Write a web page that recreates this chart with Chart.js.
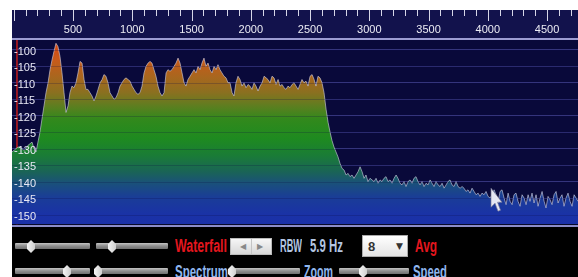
<!DOCTYPE html>
<html><head><meta charset="utf-8">
<script src="https://cdn.jsdelivr.net/npm/chart.js@4.4.1/dist/chart.umd.min.js"></script>
<style>
html,body{margin:0;padding:0;background:#fff;width:578px;height:277px;overflow:hidden;}
#app{position:absolute;left:12px;top:10px;width:566px;height:267px;background:#000;overflow:hidden;}
#chart{position:absolute;left:0;top:0;}
.t{position:absolute;font-family:"Liberation Sans",Arial,sans-serif;font-weight:bold;font-size:18px;line-height:16px;white-space:nowrap;transform-origin:left center;}
.red{color:#e4161e}
.blue{color:#8fb6ee}
.pale{color:#b4c6e2}
.sl{position:absolute;height:6px;background:linear-gradient(#c4c4c4,#8e8e8e 50%,#707070);border-radius:1px;}
.kn{position:absolute;width:8px;height:13px;background:linear-gradient(90deg,#f4f4f4,#d0d0d0);clip-path:polygon(50% 0,100% 30%,100% 70%,50% 100%,0 70%,0 30%);}
.btn{position:absolute;background:linear-gradient(#f6f6f6,#d8d8d8);border:1px solid #bbb;box-sizing:border-box;font-family:"DejaVu Sans",sans-serif;font-size:8px;color:#888;}
.btn span{position:absolute;top:3px;}
.dd{position:absolute;background:linear-gradient(#ffffff,#e4e4e4);border:1px solid #aaa;box-sizing:border-box;font-family:"Liberation Sans",Arial,sans-serif;font-weight:bold;font-size:13px;color:#333;}
</style>
</head><body>
<div id="app">
  <canvas id="chart" width="566" height="223"></canvas>
  <div class="sl" style="left:3px;top:233px;width:75px"></div><div class="kn" style="left:15px;top:230px"></div>
  <div class="sl" style="left:84px;top:233px;width:72px"></div><div class="kn" style="left:96px;top:230px"></div>
  <div class="t red" data-w="52" style="left:163px;top:228px">Waterfall</div>
  <div class="btn" style="left:218px;top:228px;width:42px;height:17px"><span style="left:9px">&#9664;</span><span style="left:20px;top:0;width:1px;height:15px;background:#c4c4c4"></span><span style="left:26px">&#9654;</span></div>
  <div class="t pale" data-w="22" style="left:268px;top:228px">RBW</div>
  <div class="t pale" data-w="33" style="left:298px;top:228px">5.9 Hz</div>
  <div class="dd" style="left:350px;top:225px;width:46px;height:22px"><span style="position:absolute;left:5px;top:3px">8</span><span style="position:absolute;right:4px;top:5px;font-size:9px;font-family:'DejaVu Sans',sans-serif">&#9660;</span></div>
  <div class="t red" data-w="22" style="left:403px;top:228px">Avg</div>

  <div class="sl" style="left:3px;top:258px;width:75px"></div><div class="kn" style="left:51px;top:255px"></div>
  <div class="sl" style="left:84px;top:258px;width:72px"></div><div class="kn" style="left:82px;top:255px"></div>
  <div class="t blue" data-w="53" style="left:163px;top:254px">Spectrum</div>
  <div class="sl" style="left:220px;top:258px;width:68px"></div><div class="kn" style="left:216px;top:255px"></div>
  <div class="t blue" data-w="29" style="left:292px;top:254px">Zoom</div>
  <div class="sl" style="left:327px;top:258px;width:70px"></div><div class="kn" style="left:347px;top:255px"></div>
  <div class="t blue" data-w="34" style="left:401px;top:254px">Speed</div>
</div>
<script>
// ---- data ----
const freqHz = [
  -15,2,19,36,53,69,86,103,120,137,
  154,171,188,204,221,238,255,272,289,306,
  323,339,356,373,390,407,424,441,458,474,
  491,508,525,542,559,576,593,609,626,643,
  660,677,694,711,728,745,761,778,795,812,
  829,846,863,880,896,913,930,947,964,981,
  998,1015,1031,1048,1065,1082,1099,1116,1133,1150,
  1166,1183,1200,1217,1234,1251,1268,1285,1301,1318,
  1335,1352,1369,1386,1403,1420,1437,1453,1470,1487,
  1504,1521,1538,1555,1572,1588,1605,1622,1639,1656,
  1673,1690,1707,1723,1740,1757,1774,1791,1808,1825,
  1842,1858,1875,1892,1909,1926,1943,1960,1977,1993,
  2010,2027,2044,2061,2078,2095,2112,2129,2145,2162,
  2179,2196,2213,2230,2247,2264,2280,2297,2314,2331,
  2348,2365,2382,2399,2415,2432,2449,2466,2483,2500,
  2517,2534,2550,2567,2584,2601,2618,2635,2652,2669,
  2685,2702,2719,2736,2753,2770,2787,2804,2821,2837,
  2854,2871,2888,2905,2922,2939,2956,2972,2989,3006,
  3023,3040,3057,3074,3091,3107,3124,3141,3158,3175,
  3192,3209,3226,3242,3259,3276,3293,3310,3327,3344,
  3361,3377,3394,3411,3428,3445,3462,3479,3496,3513,
  3529,3546,3563,3580,3597,3614,3631,3648,3664,3681,
  3698,3715,3732,3749,3766,3783,3799,3816,3833,3850,
  3867,3884,3901,3918,3934,3951,3968,3985,4002,4019,
  4036,4053,4069,4086,4103,4120,4137,4154,4171,4188,
  4205,4221,4238,4255,4272,4289,4306,4323,4340,4356,
  4373,4390,4407,4424,4441,4458,4475,4491,4508,4525,
  4542,4559,4576,4593,4610,4626,4643,4660,4677,4694,
  4711,4728,4745,4761
];
const levelDb = [
  -131,-130.5,-130,-129.5,-129.5,-130,-130.5,-130,-129,-128.5,
  -128,-130,-131,-128,-125,-121,-117,-113,-110,-106,
  -103,-100.5,-98,-99,-102,-107,-113,-119,-117,-113,
  -111,-111.5,-110,-107,-103.5,-104,-109,-112,-112,-113,
  -114,-115.5,-114,-112,-110,-109,-107.5,-108,-110,-113,
  -114,-115,-114.5,-113,-111,-110,-109,-108.5,-109,-109.5,
  -111,-112,-113,-113.5,-113,-111,-107,-105,-104,-103.5,
  -104,-106,-108,-111,-113,-114,-113,-107,-106,-106.5,
  -106,-105,-104,-102.5,-104,-107,-110,-111,-109,-108,
  -107,-106,-107,-105,-106,-104,-102.5,-105,-104,-106,
  -107,-105,-106,-104.5,-106,-107,-108,-108.5,-110,-110,
  -113,-114,-110,-108,-109,-111,-110,-111.5,-110.5,-111,
  -112,-110,-111,-112.5,-111,-110,-108,-108.5,-109,-110,
  -108,-108.5,-110.5,-109,-111,-110.5,-111.5,-112,-111,-111.5,
  -110.5,-110,-111,-112,-110.5,-109,-110,-109.5,-111,-108,
  -107.5,-109,-111,-108,-108.5,-110,-113,-118,-122,-125,
  -127.5,-129.5,-131,-132.5,-134.5,-136,-136.5,-138,-137.5,-138.5,
  -138,-139,-138,-137,-135.5,-137,-139,-138,-140,-139,
  -139.5,-140,-139,-140.5,-139.5,-140,-139,-138.5,-140,-139.5,
  -140.5,-139,-138,-139,-140.5,-141,-140,-141.5,-140,-139.5,
  -140.5,-139,-138.5,-140,-141,-140,-141.5,-140.5,-141,-139.5,
  -140.5,-141.5,-140,-141,-141.5,-140.5,-142,-141,-140,-139.5,
  -141,-141.5,-140,-141.5,-142,-141.5,-142,-143,-142.5,-143.5,
  -142,-143,-144,-143.5,-144.5,-143.5,-144,-143,-144.5,-145,
  -144,-142.5,-144,-146.5,-143,-142.5,-145,-147,-143.5,-146,
  -147,-144,-143.5,-146,-147.5,-144,-145,-147,-144,-146,
  -143.5,-146.5,-144,-147.5,-145,-143,-146,-148,-144.5,-145.5,
  -147,-144,-143,-146.5,-145,-144,-147.5,-145,-143.5,-146,
  -147.5,-144,-145,-146
];
const xTickValues = [500,1000,1500,2000,2500,3000,3500,4000,4500];
const yTickValues = [-100,-105,-110,-115,-120,-125,-130,-135,-140,-145,-150];
const markerHz = 27;          // red marker line
const cursorHz = 4027, cursorDb = -142;  // mouse pointer position
const xMin = -15, xMax = 4761, yMin = -153, yMax = -97;
const minorStepHz = 100;

// ---- styles ----
const FONT = '"Liberation Sans",Arial,sans-serif';
const gradientStops = [
  [-97,'#dc4410'],[-103,'#c85a1a'],[-108,'#aa661e'],[-113,'#8a7020'],
  [-117,'#5e7e20'],[-121,'#32891c'],[-127,'#1e8a20'],[-132,'#1a7c36'],
  [-137,'#1a6456'],[-141,'#1a4e7e'],[-145,'#1a3c98'],[-150,'#1a32a6'],[-153,'#1a30a8']
];

function fillGradient(context) {
  const chart = context.chart;
  const {ctx, chartArea} = chart;
  if (!chartArea) return null;
  const ys = chart.scales.y;
  const top = ys.getPixelForValue(yMax), bot = ys.getPixelForValue(yMin);
  const g = ctx.createLinearGradient(0, top, 0, bot);
  gradientStops.forEach(([db, c]) => g.addColorStop((yMax - db) / (yMax - yMin), c));
  return g;
}

const decor = {
  id: 'decor',
  beforeDraw(chart) {
    const {ctx, chartArea: a, width, height} = chart;
    ctx.save();
    ctx.fillStyle = '#000';
    ctx.fillRect(0, 0, width, height);
    ctx.fillStyle = '#12124c';
    ctx.fillRect(0, 0, width, a.top);
    ctx.fillStyle = '#09093a';
    ctx.fillRect(a.left, a.top, a.right - a.left, a.bottom - a.top);
    ctx.restore();
  },
  afterDatasetsDraw(chart) {
    // faint grid lines visible through the filled spectrum
    const {ctx, chartArea: a} = chart;
    const ys = chart.scales.y;
    ctx.save();
    ctx.strokeStyle = 'rgba(10,10,70,0.22)';
    ctx.lineWidth = 1;
    yTickValues.forEach(v => {
      const py = Math.round(ys.getPixelForValue(v)) + 0.5;
      ctx.beginPath(); ctx.moveTo(a.left, py); ctx.lineTo(a.right, py); ctx.stroke();
    });
    ctx.restore();
  },
  afterDraw(chart) {
    const {ctx, chartArea: a, width} = chart;
    const xs = chart.scales.x, ys = chart.scales.y;
    ctx.save();
    ctx.strokeStyle = '#d6d6e8';
    ctx.lineWidth = 1;
    for (let v = 0; v <= xMax; v += minorStepHz) {
      const px = Math.round(xs.getPixelForValue(v)) + 0.5;
      const len = (v % 500 === 0) ? 11 : 6;
      ctx.beginPath(); ctx.moveTo(px, 0); ctx.lineTo(px, len); ctx.stroke();
    }
    ctx.strokeStyle = '#9c9cd2';
    ctx.lineWidth = 2;
    ctx.beginPath(); ctx.moveTo(0, a.top - 1); ctx.lineTo(width, a.top - 1); ctx.stroke();
    ctx.strokeStyle = '#8c8cc8';
    ctx.beginPath(); ctx.moveTo(0, a.bottom + 1.5); ctx.lineTo(width, a.bottom + 1.5); ctx.stroke();
    const cx = xs.getPixelForValue(cursorHz), cy = ys.getPixelForValue(cursorDb);
    const pts = [[0,0],[0,19],[4,15],[7,23],[9.5,22],[6.5,14],[11,14]];
    ctx.beginPath();
    pts.forEach(([dx, dy], i) => i ? ctx.lineTo(cx + dx, cy + dy) : ctx.moveTo(cx + dx, cy + dy));
    ctx.closePath();
    ctx.fillStyle = 'rgba(240,240,248,0.95)';
    ctx.fill();
    ctx.strokeStyle = 'rgba(120,120,150,0.8)';
    ctx.lineWidth = 0.8;
    ctx.stroke();
    ctx.restore();
  }
};

new Chart(document.getElementById('chart'), {
  type: 'line',
  data: {
    datasets: [
      {
        data: freqHz.map((f, i) => ({x: f, y: levelDb[i]})),
        borderColor: 'rgba(212,212,228,0.6)',
        borderWidth: 1,
        pointRadius: 0,
        tension: 0,
        fill: 'start',
        backgroundColor: fillGradient
      },
      {
        data: [{x: markerHz, y: yMin}, {x: markerHz, y: yMax}],
        borderColor: '#c41c1c',
        borderWidth: 1.5,
        pointRadius: 0,
        fill: false
      }
    ]
  },
  options: {
    responsive: false,
    animation: false,
    devicePixelRatio: 1,
    layout: {padding: {top: 0, bottom: 3, left: 0, right: 0}},
    plugins: {legend: {display: false}, tooltip: {enabled: false}},
    events: [],
    scales: {
      x: {
        type: 'linear', position: 'top', min: xMin, max: xMax,
        grid: {display: false, drawTicks: false},
        border: {display: false},
        afterBuildTicks: s => { s.ticks = xTickValues.map(v => ({value: v})); },
        afterFit: s => { s.height = 30; },
        ticks: {color: '#ececf4', font: {family: FONT, size: 11}, padding: 3, maxRotation: 0, autoSkip: false,
                callback: v => String(v)}
      },
      y: {
        type: 'linear', position: 'left', min: yMin, max: yMax,
        grid: {color: '#34347c', lineWidth: 1, drawTicks: false},
        border: {display: false},
        afterBuildTicks: s => { s.ticks = yTickValues.map(v => ({value: v})); },
        afterFit: s => { s.width = 0; },
        ticks: {mirror: true, z: 1, padding: 2, labelOffset: 2, color: '#e8e8f4',
                font: {family: FONT, size: 11}, autoSkip: false, callback: v => String(v)}
      }
    }
  },
  plugins: [decor]
});

document.querySelectorAll('.t[data-w]').forEach(el => {
  const w = el.getBoundingClientRect().width;
  el.style.transform = 'scaleX(' + (Number(el.dataset.w) / w) + ')';
});
</script>
</body></html>
